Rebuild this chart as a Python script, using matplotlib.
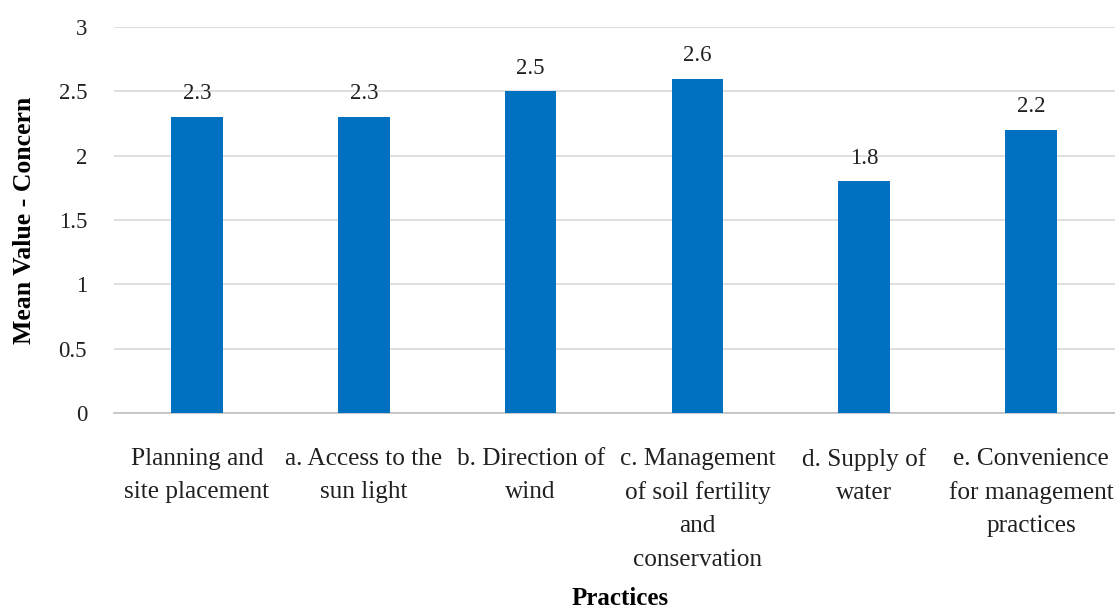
import matplotlib
matplotlib.use("Agg")
import matplotlib.pyplot as plt

# Mean concern score per practice
practices = [
    "Planning and\nsite placement",
    "a. Access to the\nsun light",
    "b. Direction of\nwind",
    "c. Management\nof soil fertility\nand\nconservation",
    "d. Supply of\nwater",
    "e. Convenience\nfor management\npractices",
]
mean_values = [2.3, 2.3, 2.5, 2.6, 1.8, 2.2]
y_ticks = [0, 0.5, 1, 1.5, 2, 2.5, 3]

plt.rcParams['font.family'] = ['Liberation Serif', 'DejaVu Serif']

fig = plt.figure(figsize=(11.15, 6.09), dpi=100)
ax = fig.add_axes([0.1018, 0.3218, 0.8978, 0.6338])

x = range(len(practices))
bars = ax.bar(x, mean_values, width=0.31, color='#0070C0', zorder=3)

for b, v in zip(bars, mean_values):
    ax.text(b.get_x() + b.get_width() / 2, v + 0.1, f"{v:g}",
            ha='center', va='bottom', fontsize=16.5, color='#202020')

ax.set_xlim(-0.5, len(practices) - 0.5)
ax.set_ylim(0, 3)
ax.set_yticks(y_ticks)
ax.set_yticklabels([f"{t:g}" for t in y_ticks], fontsize=16.5, color='#202020')
ax.set_xticks(list(x))
ax.set_xticklabels(practices, fontsize=18.2, color='#202020', linespacing=1.65)
ax.tick_params(axis='both', length=0)
ax.tick_params(axis='y', pad=19)
ax.tick_params(axis='x', pad=25)

ax.grid(True, axis='y', color='#d9d9d9', linewidth=1.2, zorder=0)
for s in ['top', 'right', 'left']:
    ax.spines[s].set_visible(False)
ax.spines['bottom'].set_color('#bfbfbf')
ax.spines['bottom'].set_linewidth(1.2)

ax.set_ylabel("Mean Value - Concern", fontsize=18.5, fontweight='bold', labelpad=16)
fig.text(0.5558, 0.018, "Practices", ha='center', va='center',
         fontsize=18, fontweight='bold')

fig.savefig("out.png", dpi=100)
